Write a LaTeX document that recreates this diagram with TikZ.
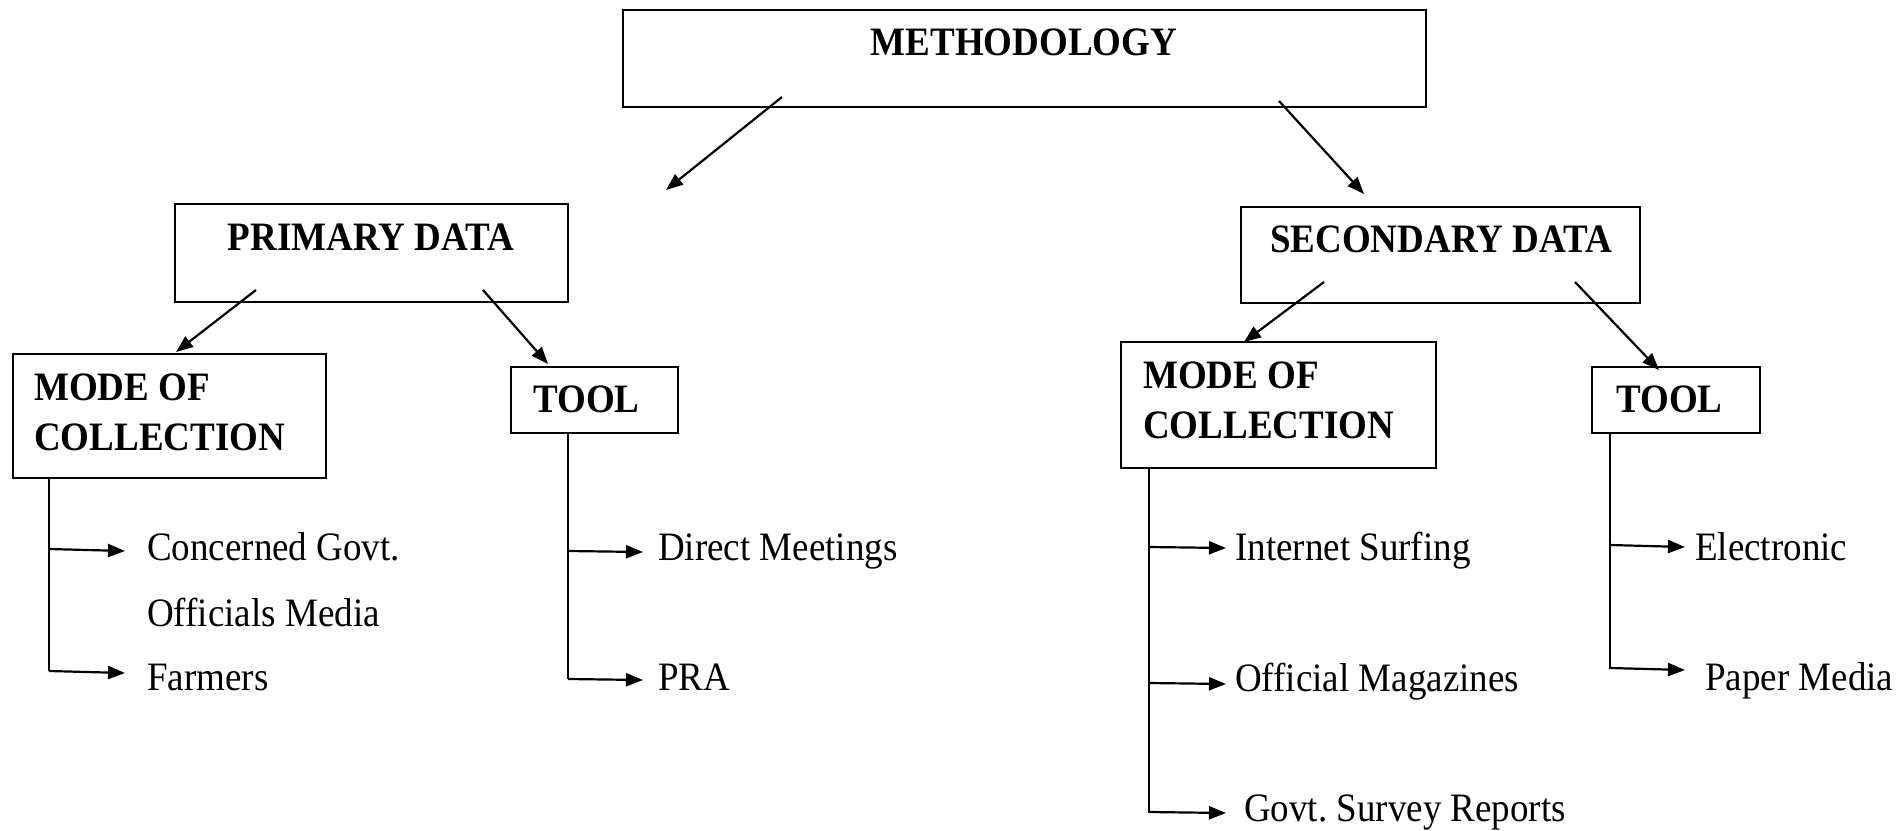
\documentclass[tikz,border=0pt]{standalone}
\usepackage{fontspec}
\usepackage{graphicx}
\setmainfont{Liberation Serif}
\usetikzlibrary{arrows.meta}
\frenchspacing
% slightly tall lettering
\newcommand\tallText[1]{\scalebox{1}[1.09]{#1}}
\begin{document}
\begin{tikzpicture}[x=1pt,y=-1pt,
  box/.style={draw, line width=1.9pt, inner sep=0pt, rectangle},
  heading/.style={font=\fontsize{37}{44}\selectfont\bfseries, inner sep=0pt},
  item/.style={font=\fontsize{37}{44}\selectfont, inner sep=0pt, anchor=base west},
  link/.style={line width=2.2pt, -{Triangle[length=17pt,width=13pt]}},
  trunk/.style={line width=1.9pt}]
  \useasboundingbox (0,0) rectangle (1903,830);

  % boxes
  \node[box, minimum width=803pt, minimum height=97pt] (meth) at (1024.5,58.5) {};
  \node[box, minimum width=393pt, minimum height=98pt] (prim) at (371.5,253) {};
  \node[box, minimum width=399pt, minimum height=96pt] (sec)  at (1440.5,255) {};
  \node[box, minimum width=313pt, minimum height=124pt] (modeL) at (169.5,416) {};
  \node[box, minimum width=167pt, minimum height=66pt] (toolL) at (594.5,400) {};
  \node[box, minimum width=315pt, minimum height=126pt] (modeR) at (1278.5,405) {};
  \node[box, minimum width=168pt, minimum height=66pt] (toolR) at (1676,400) {};

  % box captions
  \node[heading, anchor=base] (methT) at (1024,55) {\tallText{METHODOLOGY}};
  \node[heading, anchor=base] (primT) at (371,250) {\tallText{PRIMARY DATA}};
  \node[heading, anchor=base] (secT)  at (1441,252) {\tallText{SECONDARY DATA}};
  \node[heading, anchor=base west] (modeLa) at (34,400) {\tallText{MODE OF}};
  \node[heading, anchor=base west] (modeLb) at (34,450) {\tallText{COLLECTION}};
  \node[heading, anchor=base west] (toolLT) at (533,412) {\tallText{TOOL}};
  \node[heading, anchor=base west] (modeRa) at (1143,388) {\tallText{MODE OF}};
  \node[heading, anchor=base west] (modeRb) at (1143,438) {\tallText{COLLECTION}};
  \node[heading, anchor=base west] (toolRT) at (1616,412) {\tallText{TOOL}};

  % diagonal arrows between levels
  \coordinate (m1) at (782,97);   \coordinate (m1e) at (666,190);
  \coordinate (m2) at (1279,101); \coordinate (m2e) at (1364,194);
  \coordinate (p1) at (256,290);  \coordinate (p1e) at (176,352);
  \coordinate (p2) at (483,290);  \coordinate (p2e) at (548,364);
  \coordinate (s1) at (1324,282); \coordinate (s1e) at (1244,342);
  \coordinate (s2) at (1575,282); \coordinate (s2e) at (1659,370);
  \draw[link] (m1) -- (m1e);
  \draw[link] (m2) -- (m2e);
  \draw[link] (p1) -- (p1e);
  \draw[link] (p2) -- (p2e);
  \draw[link] (s1) -- (s1e);
  \draw[link] (s2) -- (s2e);

  % vertical trunks
  \coordinate (tLa) at (49,478);   \coordinate (tLb) at (49,671);
  \coordinate (tTa) at (568,433);  \coordinate (tTb) at (568,679);
  \coordinate (tRa) at (1149,468); \coordinate (tRb) at (1149,813);
  \coordinate (tSa) at (1610,433); \coordinate (tSb) at (1610,669);
  \draw[trunk] (tLa) -- (tLb);
  \draw[trunk] (tTa) -- (tTb);
  \draw[trunk] (tRa) -- (tRb);
  \draw[trunk] (tSa) -- (tSb);

  % branch arrows
  \foreach \n/\x/\ya/\t/\yb in {
      c1/49/549/125/551, c3/49/671/125/673,
      d1/568/551/643/552, d2/568/679/643/680,
      i1/1149/547/1226/548, i2/1149/683/1226/684, i3/1149/812/1226/813,
      e1/1610/545/1685/547, e2/1610/668/1685/670} {
    \coordinate (b\n) at (\x,\ya);
    \coordinate (h\n) at (\t,\yb);
    \draw[link] (b\n) -- (h\n);
  }

  % items
  \node[item] (concerned) at (147,560) {\tallText{Concerned Govt.}};
  \node[item] (officials) at (147,626) {\tallText{Officials Media}};
  \node[item] (farmers)   at (147,690) {\tallText{Farmers}};
  \node[item] (direct)    at (658,560) {\tallText{Direct Meetings}};
  \node[item] (pra)       at (658,690) {\tallText{PRA}};
  \node[item] (internet)  at (1235,560) {\tallText{Internet Surfing}};
  \node[item] (magazines) at (1235,691) {\tallText{Official Magazines}};
  \node[item] (survey)    at (1244,821) {\tallText{Govt.\ Survey Reports}};
  \node[item] (electronic) at (1695,560) {\tallText{Electronic}};
  \node[item] (paper)     at (1705,690) {\tallText{Paper Media}};
\end{tikzpicture}
\end{document}
